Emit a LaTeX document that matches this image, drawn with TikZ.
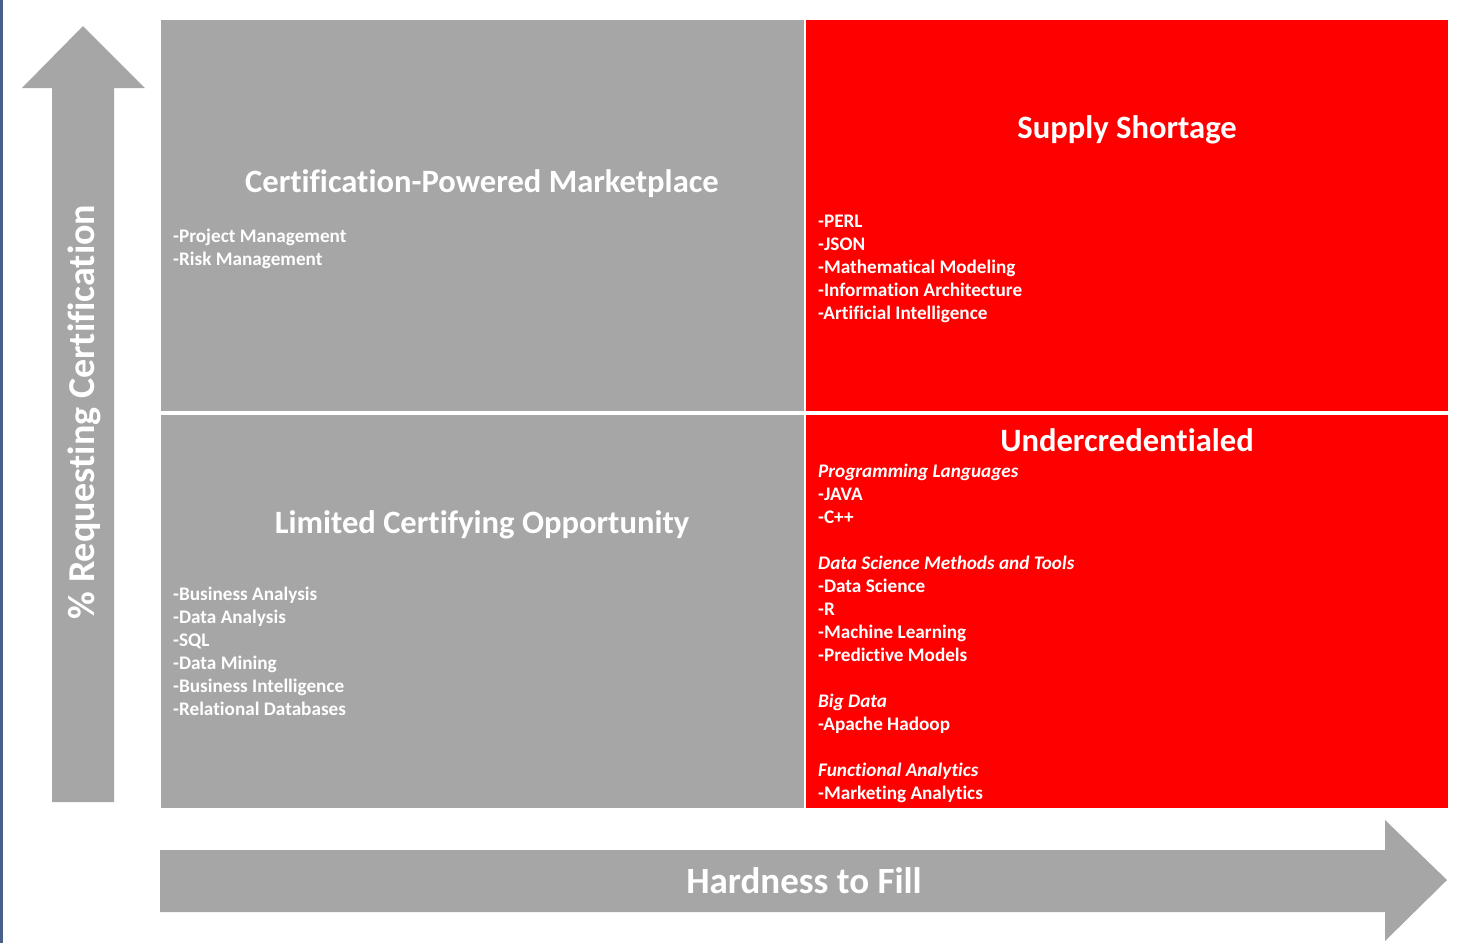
\documentclass[tikz,border=0pt]{standalone}
\usepackage{fontspec}
\setmainfont{Carlito}[Ligatures=NoCommon]
\definecolor{qgray}{HTML}{A6A6A6}
\definecolor{qred}{HTML}{FF0000}
\definecolor{edgeblue}{HTML}{4A5E8A}
\begin{document}
\begin{tikzpicture}[x=1pt,y=-1pt,
  graybox/.style={fill=qgray,draw=none},
  redbox/.style={fill=qred,draw=none},
  bigarrow/.style={fill=qgray,draw=none},
  qtitle/.style={anchor=base,text=white,inner sep=0pt,font=\bfseries\fontsize{32.6}{34}\selectfont},
  item/.style={anchor=base west,text=white,inner sep=0pt,font=\bfseries\fontsize{19.2}{21}\selectfont},
  axislabel/.style={text=white,inner sep=0pt,font=\bfseries\fontsize{37}{39}\selectfont}]
\useasboundingbox (0,0) rectangle (1469,943);
\fill[white] (0,0) rectangle (1469,943);
\fill[edgeblue] (0,0) rectangle (2.5,943);
% quadrants
\fill[graybox] (161,20) rectangle (803.5,411);
\fill[redbox] (806,20) rectangle (1448,411);
\fill[graybox] (161,415) rectangle (803.5,808);
\fill[redbox] (806,415) rectangle (1448,808);
% arrows
\fill[bigarrow] (52,802) -- (52,88) -- (22,88) -- (83,26) -- (145,88) -- (114,88) -- (114,802) -- cycle;
\fill[bigarrow] (160,850) -- (1385,850) -- (1385,820) -- (1447,880) -- (1385,941) -- (1385,912) -- (160,912) -- cycle;
% titles
\node[qtitle] (t1) at (482,192) {Certification-Powered Marketplace};
\node[qtitle] (t2) at (1127,138) {Supply Shortage};
\node[qtitle] (t3) at (1127,451) {Undercredentialed};
\node[qtitle] (t4) at (482,533) {Limited Certifying Opportunity};
\node[axislabel,anchor=base] (xl) at (804,893) {Hardness to Fill};
\node[axislabel,rotate=90,anchor=base,font=\bfseries\fontsize{38}{40}\selectfont] (yl) at (94,412) {\% Requesting Certification};
% lists
\foreach \y/\t [count=\i] in {242/-Project Management,265/-Risk Management}
  \node[item] (a\i) at (173,\y) {\t};
\foreach \y/\t [count=\i] in {227/-PERL,250/-JSON,273/-Mathematical Modeling,296/-Information Architecture,319/-Artificial Intelligence}
  \node[item] (b\i) at (818,\y) {\t};
\foreach \y/\t [count=\i] in {600/-Business Analysis,623/-Data Analysis,646/-SQL,669/-Data Mining,692/-Business Intelligence,715/-Relational Databases}
  \node[item] (c\i) at (173,\y) {\t};
\foreach \y/\t [count=\i] in {477/\itshape Programming Languages,500/-JAVA,523/-C++,569/\itshape Data Science Methods and Tools,592/-Data Science,615/-R,638/-Machine Learning,661/-Predictive Models,707/\itshape Big Data,730/-Apache Hadoop,776/\itshape Functional Analytics,799/-Marketing Analytics}
  \node[item] (d\i) at (818,\y) {\t};
\end{tikzpicture}
\end{document}
